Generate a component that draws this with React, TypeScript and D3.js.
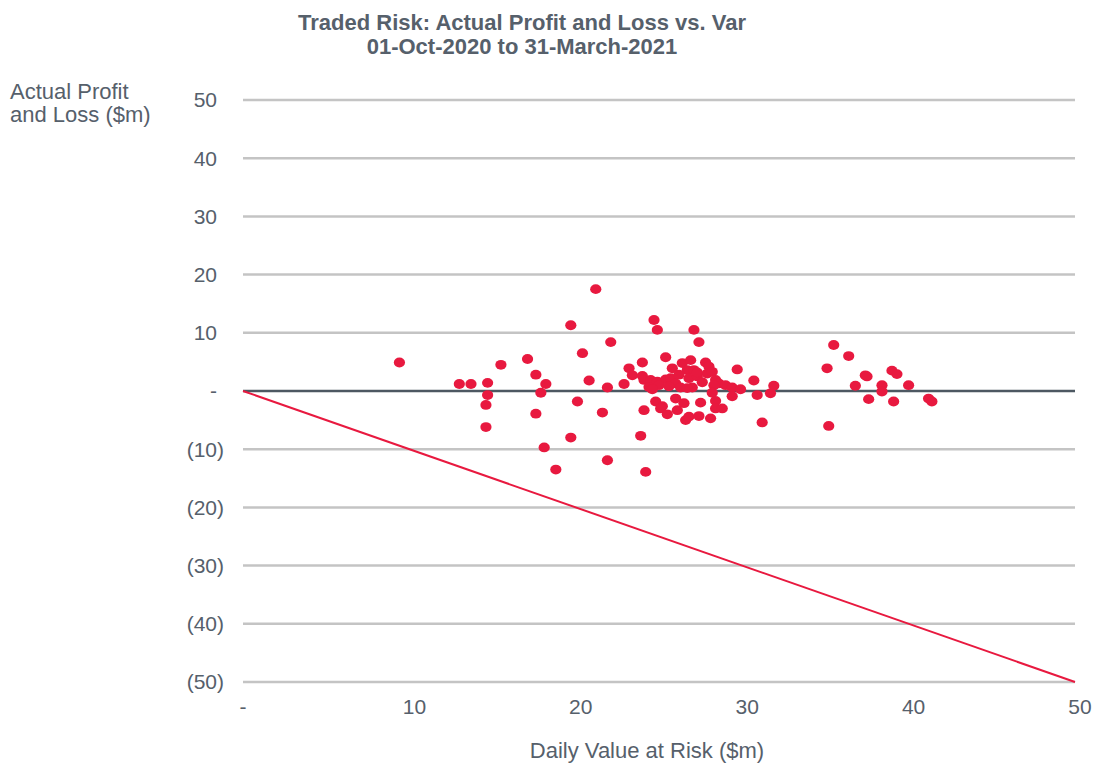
import { useEffect, useRef } from 'react';
import * as d3 from 'd3';

// Daily VaR ($m) and actual P&L ($m)
const varValues = [
  9.4, 13.0, 13.7, 14.7, 14.7, 14.6, 14.6, 15.5, 17.1, 17.6, 18.2, 17.9, 17.6, 18.1, 18.8,
  19.7, 21.2, 20.4, 22.1, 20.8, 20.1, 19.7, 21.6, 21.9, 21.9, 22.9, 23.2, 23.4, 24.2, 23.9,
  24.7, 24.9, 27.1, 27.4, 25.4, 24.0, 24.0, 24.1, 24.5, 24.4, 24.9, 25.4, 25.8, 25.7, 26.0,
  26.3, 26.4, 26.9, 26.7, 27.1, 26.8, 27.3, 27.0, 26.7, 27.8, 28.0, 27.9, 28.2, 28.4, 28.6,
  28.3, 28.2, 29.0, 29.4, 29.4, 29.9, 29.7, 30.7, 30.9, 31.7, 31.9, 31.2, 24.8, 25.2, 25.1,
  25.5, 26.0, 26.1, 26.5, 26.6, 26.8, 27.4, 27.5, 28.4, 28.4, 28.8, 28.1, 24.1, 35.5, 36.4,
  35.1, 37.5, 36.8, 39.0, 39.3, 40.0, 38.4, 38.4, 37.6, 39.1, 41.2, 41.4, 35.2, 25.0, 25.6,
  26.2, 27.6, 24.6, 27.3, 37.4,
];
const pnlValues = [
  4.9, 1.2, 1.2, 1.4, -0.7, -2.4, -6.2, 4.5, 5.5, 2.8, 1.2, -0.3, -3.9, -9.7, -13.5,
  11.3, 17.5, 6.5, 8.4, 1.8, -1.8, -8.0, -3.7, 0.6, -11.9, 1.2, 3.9, 2.7, -13.9, -7.7,
  12.2, 10.5, 10.5, 8.4, 5.8, 4.9, 2.6, 1.9, 1.9, 0.7, 1.6, 2.0, 3.9, 2.2, 1.3,
  0.6, 4.8, 5.3, 3.6, 3.6, 2.2, 2.5, 0.6, 0.5, 4.9, 4.2, 3.0, 3.3, 1.9, 1.3,
  1.0, -0.3, 1.0, 0.6, -0.9, 0.3, 3.7, 1.8, -0.7, -0.4, 0.9, -5.4, -1.8, -2.6, -3.0,
  -4.0, -1.3, -3.3, -2.1, -5.0, -4.4, -4.3, -2.0, -1.7, -3.0, -3.0, -4.7, -3.3, 7.9, 6.0,
  3.9, 2.5, 0.9, 3.5, 2.9, 1.0, 1.0, -0.1, -1.4, -1.8, -1.3, -1.8, -6.0, 1.0, 0.8,
  2.8, 1.5, 0.3, 3.2, 2.7,
];

const xTicks = [0, 10, 20, 30, 40, 50];
const yTicks = [50, 40, 30, 20, 10, 0, -10, -20, -30, -40, -50];

const titleLines = ['Traded Risk: Actual Profit and Loss vs. Var', '01-Oct-2020 to 31-March-2021'];
const yTitleLines = ['Actual Profit', 'and Loss ($m)'];
const xTitle = 'Daily Value at Risk ($m)';

const fmt = (v: number) => (v === 0 ? '-' : v < 0 ? `(${Math.abs(v)})` : `${v}`);

export default function App() {
  const svgRef = useRef<SVGSVGElement>(null);

  useEffect(() => {
    if (!svgRef.current) return;
    const svg = d3.select(svgRef.current);
    svg.selectAll('*').remove();

    const width = 1093;
    const height = 763;
    const font = 'Arial, "Liberation Sans", sans-serif';
    const textColor = '#56606b';
    const red = '#e8193f';

    svg.attr('width', width).attr('height', height);

    const x = d3.scaleLinear().domain([0, 50]).range([243, 1075]);
    const y = d3.scaleLinear().domain([-50, 50]).range([682, 100]);

    // grid lines
    svg.append('g')
      .selectAll('line')
      .data(yTicks.filter(t => t !== 0))
      .enter()
      .append('line')
      .attr('x1', x(0))
      .attr('x2', x(50))
      .attr('y1', d => y(d))
      .attr('y2', d => y(d))
      .attr('stroke', '#c4c4c4')
      .attr('stroke-width', 2.5);

    // zero line
    svg.append('line')
      .attr('x1', x(0))
      .attr('x2', x(50))
      .attr('y1', y(0))
      .attr('y2', y(0))
      .attr('stroke', '#4d5862')
      .attr('stroke-width', 2.5);

    // y tick labels (accounting style, parenthesis hangs to the right)
    svg.append('g')
      .selectAll('text')
      .data(yTicks)
      .enter()
      .append('text')
      .attr('x', d => (d < 0 ? 224 : 217))
      .attr('y', d => y(d))
      .attr('dy', '0.35em')
      .attr('text-anchor', 'end')
      .attr('font-family', font)
      .attr('font-size', 21)
      .attr('fill', textColor)
      .text(d => fmt(d));

    // x tick labels
    svg.append('g')
      .selectAll('text')
      .data(xTicks)
      .enter()
      .append('text')
      .attr('x', d => x(d) + (d === 0 ? 0 : 5))
      .attr('y', 714)
      .attr('text-anchor', 'middle')
      .attr('font-family', font)
      .attr('font-size', 21)
      .attr('fill', textColor)
      .text(d => fmt(d));

    // VaR line: loss equal to VaR
    svg.append('line')
      .attr('x1', x(0))
      .attr('y1', y(0))
      .attr('x2', x(50))
      .attr('y2', y(-50))
      .attr('stroke', red)
      .attr('stroke-width', 2);

    // points
    const pts = varValues.map((v, i) => ({ v, p: pnlValues[i] }));
    svg.append('g')
      .selectAll('ellipse')
      .data(pts)
      .enter()
      .append('ellipse')
      .attr('cx', d => x(d.v))
      .attr('cy', d => y(d.p))
      .attr('rx', 5.6)
      .attr('ry', 4.9)
      .attr('fill', red);

    // title
    svg.append('g')
      .selectAll('text')
      .data(titleLines)
      .enter()
      .append('text')
      .attr('x', 522)
      .attr('y', (_, i) => 30 + i * 24)
      .attr('text-anchor', 'middle')
      .attr('font-family', font)
      .attr('font-size', 22)
      .attr('font-weight', 700)
      .attr('fill', textColor)
      .text(d => d);

    // y axis title
    svg.append('g')
      .selectAll('text')
      .data(yTitleLines)
      .enter()
      .append('text')
      .attr('x', 10)
      .attr('y', (_, i) => 99 + i * 23)
      .attr('font-family', font)
      .attr('font-size', 22)
      .attr('fill', textColor)
      .text(d => d);

    // x axis title
    svg.append('text')
      .attr('x', 647)
      .attr('y', 758)
      .attr('text-anchor', 'middle')
      .attr('font-family', font)
      .attr('font-size', 22)
      .attr('fill', textColor)
      .text(xTitle);
  }, []);

  return (
    <svg
      ref={svgRef}
      style={{ position: 'absolute', left: 0, top: 0, display: 'block', background: 'white' }}
    />
  );
}
